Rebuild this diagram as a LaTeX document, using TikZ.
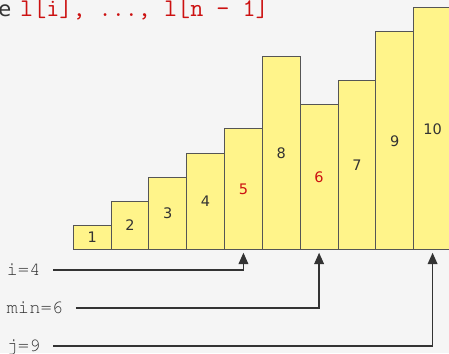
\documentclass[tikz,border=0pt]{standalone}
\usepackage{fontspec}
\setmainfont{DejaVu Sans}
\usetikzlibrary{arrows.meta}
\definecolor{bg}{HTML}{F5F5F5}
\definecolor{barfill}{HTML}{FFF48A}
\definecolor{barline}{HTML}{555555}
\definecolor{ink}{HTML}{333333}
\definecolor{hl}{HTML}{CC1111}
\newcommand\courierfont{\fontencoding{OT1}\fontfamily{pcr}\selectfont}
\tikzset{
  bar/.style={draw=barline, fill=barfill, line width=1pt, inner sep=0pt,
    anchor=south west, minimum width=37.83pt,
    font=\fontsize{14.5}{16}\selectfont},
  varlabel/.style={anchor=west, inner sep=0pt, text=ink,
    text height=11pt, text depth=0pt,
    font=\courierfont\fontsize{18.8}{20}\selectfont},
  conn/.style={draw=ink, line width=1.8pt,
    -{Triangle[length=11.3pt,width=9.5pt]},
    shorten <=12.5pt, shorten >=2.4pt},
}
\begin{document}
\begin{tikzpicture}[x=1pt,y=-1pt]
\fill[bg] (0,0) rectangle (449,353);
\useasboundingbox (0,0) rectangle (449,353);
% title fragment
\node[anchor=base east, inner sep=0pt, text=ink,
  font=\fontsize{21}{24}\selectfont] (tpre) at (11.5,16.7) {e};
\node[anchor=base west, inner sep=0pt, text=hl,
  font=\ttfamily\fontsize{25.4}{27}\selectfont] (title) at (20,16.7)
  {l[i], ..., l[n - 1]};
% bars
\foreach \v/\c [count=\n from 1] in {1/ink,2/ink,3/ink,4/ink,5/hl,8/ink,6/hl,7/ink,9/ink,10/ink}{
  \pgfmathsetmacro\xl{72.7+37.83*(\n-1)}
  \node[bar, minimum height=\v*24.2pt, text=\c] (b\n) at (\xl,250.3) {\v};
}
% variable labels
\node[varlabel] (il) at (6.5,270) {i=4};
\node[varlabel] (ml) at (6.5,307.7) {min=6};
\node[varlabel] (jl) at (6.5,346) {j=9};
% connectors
\draw[conn] (il.east) -| (b5.south);
\draw[conn] (ml.east) -| (b7.south);
\draw[conn] (jl.east) -| (b10.south);
\end{tikzpicture}
\end{document}
